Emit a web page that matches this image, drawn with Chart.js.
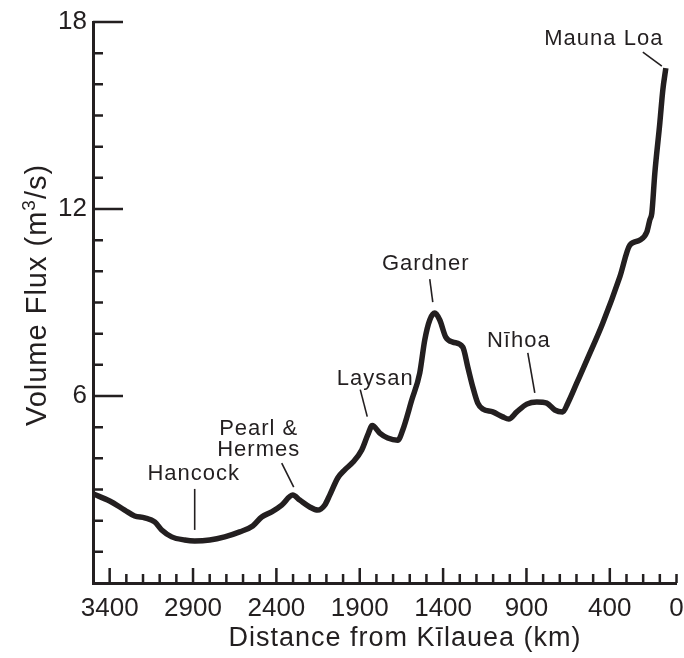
<!DOCTYPE html>
<html>
<head>
<meta charset="utf-8">
<script src="https://cdn.jsdelivr.net/npm/chart.js@4.4.1/dist/chart.umd.min.js"></script>
<style>
  html, body { margin: 0; padding: 0; background: #fff; }
  #wrap { width: 684px; height: 658px; }
</style>
</head>
<body>
<div id="wrap"><canvas id="fluxChart" width="684" height="658"></canvas></div>
<script>
// ---- Volume flux along the Hawaiian-Emperor chain ----
const distanceKm = [
  3500, 3400, 3310, 3250, 3190, 3130, 3088, 3028, 2950, 2890,
  2800, 2710, 2620, 2542, 2488, 2428, 2368, 2302, 2260, 2200,
  2152, 2110, 2080, 2032, 1990, 1940, 1888, 1852, 1825, 1780,
  1732, 1672, 1642, 1588, 1540, 1510, 1480, 1450, 1420, 1384,
  1342, 1282, 1252, 1222, 1192, 1162, 1102, 1042, 1006, 958,
  898, 838, 778, 730, 682, 652, 598, 532, 442, 340,
  280, 220, 178, 160, 148, 130, 100, 82, 64
];
const volumeFlux = [
  2.86, 2.63, 2.34, 2.15, 2.09, 1.96, 1.70, 1.48, 1.38, 1.35,
  1.38, 1.48, 1.64, 1.83, 2.12, 2.28, 2.50, 2.82, 2.66, 2.44,
  2.34, 2.50, 2.82, 3.37, 3.63, 3.88, 4.27, 4.75, 5.05, 4.81,
  4.65, 4.58, 4.91, 5.87, 6.74, 7.80, 8.44, 8.66, 8.44, 7.89,
  7.73, 7.57, 6.93, 6.29, 5.77, 5.58, 5.49, 5.33, 5.26, 5.49,
  5.74, 5.81, 5.77, 5.55, 5.49, 5.77, 6.42, 7.22, 8.34, 9.82,
  10.84, 11.00, 11.26, 11.65, 11.87, 13.15, 14.76, 15.82, 16.52
];

const xTickLabels = [3400, 2900, 2400, 1900, 1400, 900, 400, 0];
const yTickLabels = [6, 12, 18];

// named volcanoes, tied to a point of the series by distance
const calloutNames = [['Mauna Loa'], ['Gardner'], ['N\u012Bhoa'], ['Laysan'], ['Pearl &', 'Hermes'], ['Hancock']];
const calloutKm = [64, 1450, 838, 1825, 2302, 2890];

// leader line ends and text anchor, in pixels from the marked point
const calloutLayout = [
  { lo: [-4, -2],  hi: [-23, -16], text: [-62, -23] },
  { lo: [-2, -11], hi: [-5, -34],  text: [-9, -43] },
  { lo: [-2, -9],  hi: [-9, -49],  text: [-18, -55] },
  { lo: [-5, -9],  hi: [-12, -36], text: [3, -41] },
  { lo: [1, -8],   hi: [-11, -32], text: [-34, -60] },
  { lo: [0, -11],  hi: [0, -52],   text: [-1, -61] }
];

const INK = '#231f20';
const FONT = "'Liberation Sans', Arial, Helvetica, sans-serif";

const xMajor = v => xTickLabels.includes(v) && v > 0;
const yMajor = v => yTickLabels.includes(v);

// inward tick marks, axis titles and volcano callouts
const decor = {
  id: 'decor',
  afterDraw(chart) {
    const { ctx, chartArea, scales: { x, y } } = chart;
    ctx.save();
    ctx.strokeStyle = INK;
    ctx.lineWidth = 2.5;
    ctx.beginPath();
    x.ticks.forEach(t => {
      if (t.value === x.max) return;
      const px = x.getPixelForValue(t.value);
      const len = xMajor(t.value) ? 15 : 9;
      ctx.moveTo(px, chartArea.bottom);
      ctx.lineTo(px, chartArea.bottom - len);
    });
    y.ticks.forEach(t => {
      if (t.value === y.min) return;
      const py = y.getPixelForValue(t.value);
      const len = yMajor(t.value) ? 30 : 10;
      ctx.moveTo(chartArea.left, py);
      ctx.lineTo(chartArea.left + len, py);
    });
    ctx.stroke();

    // axis titles
    ctx.fillStyle = INK;
    ctx.textBaseline = 'alphabetic';
    ctx.font = '27px ' + FONT;
    ctx.letterSpacing = '1px';
    ctx.textAlign = 'center';
    ctx.fillText('Distance from K\u012Blauea (km)', 405, 646);

    ctx.translate(46, 295);
    ctx.rotate(-Math.PI / 2);
    const big = '29px ' + FONT, small = '19px ' + FONT;
    const parts = [['Volume Flux (m', big, 0], ['3', small, -11], ['/s)', big, 0]];
    let total = 0;
    parts.forEach(p => { ctx.font = p[1]; total += ctx.measureText(p[0]).width; });
    let cx = -total / 2;
    ctx.textAlign = 'left';
    parts.forEach(p => {
      ctx.font = p[1];
      ctx.fillText(p[0], cx, p[2]);
      cx += ctx.measureText(p[0]).width;
    });
    ctx.restore();

    // callouts
    ctx.save();
    ctx.strokeStyle = INK;
    ctx.fillStyle = INK;
    ctx.lineWidth = 1.6;
    ctx.font = '22px ' + FONT;
    ctx.letterSpacing = '1px';
    ctx.textAlign = 'center';
    calloutKm.forEach((km, i) => {
      const idx = distanceKm.indexOf(km);
      const px = x.getPixelForValue(km);
      const py = y.getPixelForValue(volumeFlux[idx]);
      const L = calloutLayout[i];
      ctx.beginPath();
      ctx.moveTo(px + L.lo[0], py + L.lo[1]);
      ctx.lineTo(px + L.hi[0], py + L.hi[1]);
      ctx.stroke();
      calloutNames[i].forEach((line, j) => {
        ctx.fillText(line, px + L.text[0], py + L.text[1] + j * 21);
      });
    });
    ctx.restore();
  }
};

new Chart(document.getElementById('fluxChart'), {
  type: 'line',
  data: {
    datasets: [{
      data: distanceKm.map((d, i) => ({ x: d, y: volumeFlux[i] })),
      borderColor: INK,
      borderWidth: 5.5,
      pointRadius: 0,
      fill: false,
      cubicInterpolationMode: 'monotone',
      borderJoinStyle: 'round'
    }]
  },
  options: {
    responsive: false,
    animation: false,
    devicePixelRatio: 1,
    layout: { padding: { top: 22, left: 0, right: 7.5, bottom: 0 } },
    plugins: { legend: { display: false }, tooltip: { enabled: false } },
    scales: {
      x: {
        type: 'linear',
        reverse: true,
        min: 0,
        max: 3500,
        grid: { display: false, drawTicks: false },
        border: { display: true, color: INK, width: 3 },
        ticks: {
          stepSize: 100,
          autoSkip: false,
          maxRotation: 0,
          padding: 10,
          color: INK,
          font: { family: FONT, size: 26 },
          callback: v => xTickLabels.includes(v) ? String(v) : ''
        },
        afterFit: s => { s.height = 75; s.paddingLeft = 0; s.paddingRight = 0; }
      },
      y: {
        min: 0,
        max: 18,
        grid: { display: false, drawTicks: false },
        border: { display: true, color: INK, width: 3 },
        ticks: {
          stepSize: 1,
          autoSkip: false,
          padding: 6,
          color: INK,
          font: { family: FONT, size: 26 },
          callback: v => yTickLabels.includes(v) ? String(v) : ''
        },
        afterFit: s => { s.width = 93; }
      }
    }
  },
  plugins: [decor]
});
</script>
</body>
</html>
